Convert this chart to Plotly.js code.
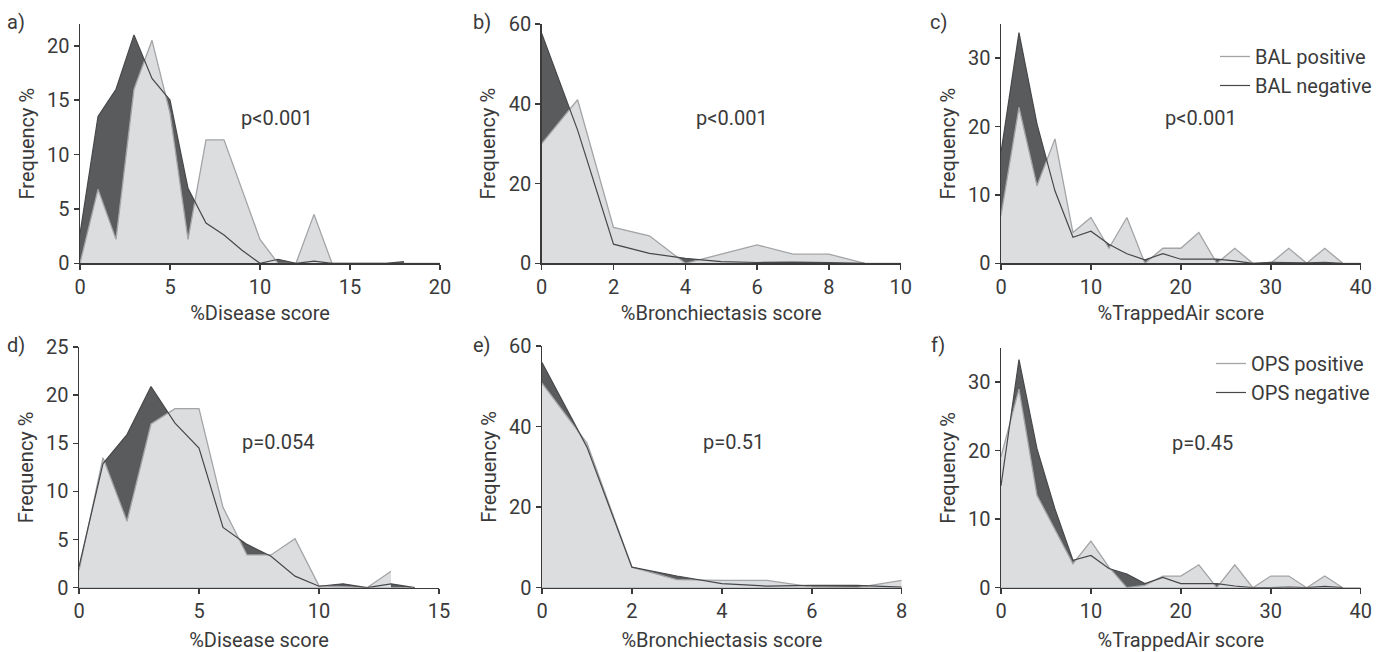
<!DOCTYPE html>
<html><head><meta charset="utf-8">
<script src="https://cdn.plot.ly/plotly-3.0.1.min.js"></script>
<style>html,body{margin:0;padding:0;background:#fff}#chart{width:1395px;height:652px}</style>
</head><body><div id="chart"></div>
<script>
// ---- data ----
const aX = [0,1,2,3,4,5,6,7,8,9,10,11,12,13,14,15,16,17,18,19,20];
const aPos = [0,6.8,2.2,16,20.5,13.8,2.2,11.35,11.35,6.8,2.2,0,0,4.5,0,0,0,0,0,0,0];
const aNegX = [0,1,2,3,4,5,6,7,8,9,10,11,12,13,14,15,16,17,18];
const aNeg = [2.7,13.5,16,21,17,15,6.9,3.7,2.6,1.2,0,0.37,0,0.2,0,0,0,0,0.15];

const bX = [0,1,2,3,4,5,6,7,8,9,10];
const bPos = [30,41,9,6.9,0,2.3,4.6,2.3,2.3,0,0];
const bNegX = [0,1,2,3,4,5,6,7,8,9];
const bNeg = [57.6,33.4,4.8,2.5,1.25,0.4,0.2,0.3,0.2,0];

const cX = [0,2,4,6,8,10,12,14,16,18,20,22,24,26,28,30,32,34,36,38,40];
const cPos = [7.0,22.8,11.35,18.2,4.5,6.7,2.2,6.7,0,2.2,2.2,4.5,0,2.2,0,0,2.2,0,2.2,0,0];
const cNegX = [0,2,4,6,8,10,12,14,16,18,20,22,24,26,28,30,32,34,36,38];
const cNeg = [16.2,33.75,20.4,10.6,3.8,4.7,2.8,1.4,0.5,1.4,0.6,0.6,0.6,0.35,0,0.15,0.05,0.05,0.15,0];

const dX = [0,1,2,3,4,5,6,7,8,9,10,11,12,13];
const dPos = [1.8,13.5,6.9,17,18.6,18.6,8.35,3.4,3.4,5.1,0.2,0.1,0,1.7];
const dNegX = [0,1,2,3,4,5,6,7,8,9,10,11,12,13,14];
const dNeg = [2.2,12.9,15.9,20.9,17.1,14.5,6.26,4.5,3.27,1.2,0.15,0.4,0,0.4,0];

const eX = [0,1,2,3,4,5,6,7,8];
const ePos = [50.8,35.9,5.1,2.0,1.8,1.8,0.2,0,1.8];
const eNegX = [0,1,2,3,4,5,6,7,8];
const eNeg = [55.9,34.9,5.1,2.9,1.0,0.4,0.6,0.6,0.15];

const fX = [0,2,4,6,8,10,12,14,16,18,20,22,24,26,28,30,32,34,36,38,40];
const fPos = [19.1,29,13.5,8.6,3.5,6.8,3.0,0,0.35,1.7,1.7,3.35,0,3.35,0,1.7,1.7,0,1.7,0,0];
const fNegX = [0,2,4,6,8,10,12,14,16,18,20,22,24,26,28,30,32,34,36,38];
const fNeg = [14.9,33.3,20.3,11.5,4.0,4.7,2.8,2.0,0.6,1.5,0.6,0.6,0.6,0.25,0,0,0.1,0,0.2,0];

const panelLabels = ["a)","b)","c)","d)","e)","f)"];
const pValues = ["p<0.001","p<0.001","p<0.001","p=0.054","p=0.51","p=0.45"];
const xTitles = ["%Disease score","%Bronchiectasis score","%TrappedAir score","%Disease score","%Bronchiectasis score","%TrappedAir score"];
const yTitle = "Frequency %";
const legendNames = [["BAL positive","BAL negative"],["OPS positive","OPS negative"]];

// ---- styling / layout ----
const W = 1395, H = 652;
const px = v => v / W, py = v => 1 - v / H;
const DARK = '#5a5b5d', LIGHT = '#dcdddf', LIGHTLINE = '#a3a4a6', NEGLINE = '#47484a', TXT = '#3a3a3a';
const FONT = 'Roboto, "DejaVu Sans", sans-serif';
const TXTSIZE = 20, TICKSIZE = 20;

const panels = [
  {x:aX,pos:aPos,nx:aNegX,neg:aNeg,xd:[80,440],yd:[263.3,24],xr:[0,20],yr:[0,22],xdt:5,ydt:5,lab:[16,22],p:[277,118],leg:null,so:8},
  {x:bX,pos:bPos,nx:bNegX,neg:bNeg,xd:[541.7,900.7],yd:[263.3,24],xr:[0,10],yr:[0,60],xdt:2,ydt:20,lab:[482,22],p:[732,118],leg:null,so:8},
  {x:cX,pos:cPos,nx:cNegX,neg:cNeg,xd:[1001,1360.7],yd:[263.3,24],xr:[0,40],yr:[0,35],xdt:10,ydt:10,lab:[938,22],p:[1201,118],leg:0,so:8},
  {x:dX,pos:dPos,nx:dNegX,neg:dNeg,xd:[79,439],yd:[587.7,347],xr:[0,15],yr:[0,25],xdt:5,ydt:5,lab:[16,345],p:[278,442],leg:null,so:11},
  {x:eX,pos:ePos,nx:eNegX,neg:eNeg,xd:[542,901.7],yd:[587.7,346],xr:[0,8],yr:[0,60],xdt:2,ydt:20,lab:[482,345],p:[733,442],leg:null,so:11},
  {x:fX,pos:fPos,nx:fNegX,neg:fNeg,xd:[1001,1360.7],yd:[587.7,348],xr:[0,40],yr:[0,35],xdt:10,ydt:10,lab:[938,345],p:[1202,443],leg:1,so:11}
];

const traces = [];
const layout = {
  width: W, height: H, margin:{l:0,r:0,t:0,b:0}, paper_bgcolor:'#fff', plot_bgcolor:'rgba(0,0,0,0)',
  font:{family:FONT, size:TXTSIZE, color:TXT}, annotations:[], showlegend:true, hovermode:false
};

panels.forEach((P,i) => {
  const n = i+1, xa = 'x'+(n===1?'':n), ya = 'y'+(n===1?'':n);
  const legId = P.leg===null ? null : (P.leg===0 ? 'legend' : 'legend2');
  traces.push({x:P.nx, y:P.neg, xaxis:xa, yaxis:ya, type:'scatter', mode:'lines', fill:'tozeroy',
    fillcolor:DARK, line:{width:0, color:DARK}, showlegend:false});
  traces.push({x:P.x, y:P.pos, xaxis:xa, yaxis:ya, type:'scatter', mode:'lines', fill:'tozeroy',
    fillcolor:LIGHT, line:{width:0, color:LIGHT}, showlegend:false});
  traces.push({x:P.x, y:P.pos, xaxis:xa, yaxis:ya, type:'scatter', mode:'lines',
    line:{width:1.3, color:LIGHTLINE}, name: legId ? legendNames[P.leg][0] : '',
    showlegend: !!legId, legend: legId || 'legend', legendgroup: 'p'+n});
  traces.push({x:P.nx, y:P.neg, xaxis:xa, yaxis:ya, type:'scatter', mode:'lines',
    line:{width:1.2, color:NEGLINE}, name: legId ? legendNames[P.leg][1] : '',
    showlegend: !!legId, legend: legId || 'legend', legendgroup: 'n'+n});

  const axCommon = {showgrid:false, zeroline:false, showline:true, linecolor:'#3a3a3a', linewidth:1.5,
    ticks:'outside', ticklen:5, tickwidth:1.5, tickcolor:'#3a3a3a', tickfont:{size:TICKSIZE, color:TXT, family:FONT},
    automargin:false, fixedrange:true};
  layout['xaxis'+(n===1?'':n)] = Object.assign({}, axCommon, {
    domain:[px(P.xd[0]), px(P.xd[1])], range:P.xr, dtick:P.xdt, tick0:0, anchor:ya,
    title:{text:xTitles[i], font:{size:TXTSIZE, color:TXT, family:FONT}, standoff:P.so}
  });
  layout['yaxis'+(n===1?'':n)] = Object.assign({}, axCommon, {
    domain:[py(P.yd[0]), py(P.yd[1])], range:P.yr, dtick:P.ydt, tick0:0, anchor:xa,
    title:{text:yTitle, font:{size:TXTSIZE, color:TXT, family:FONT}, standoff:7}
  });
  layout.annotations.push({text:panelLabels[i], xref:'paper', yref:'paper', x:px(P.lab[0]), y:py(P.lab[1]),
    xanchor:'center', yanchor:'middle', showarrow:false, font:{size:TXTSIZE, color:TXT, family:FONT}});
  layout.annotations.push({text:pValues[i], xref:'paper', yref:'paper', x:px(P.p[0]), y:py(P.p[1]),
    xanchor:'center', yanchor:'middle', showarrow:false, font:{size:TXTSIZE, color:TXT, family:FONT}});
});

const legCommon = {xanchor:'left', yanchor:'top', bgcolor:'rgba(0,0,0,0)', borderwidth:0,
  font:{size:TXTSIZE, color:TXT, family:FONT}, tracegroupgap:0, traceorder:'grouped'};
layout.legend = Object.assign({}, legCommon, {x:px(1215), y:py(37)});
layout.legend2 = Object.assign({}, legCommon, {x:px(1211), y:py(344)});

Plotly.newPlot('chart', traces, layout, {staticPlot:true, displayModeBar:false});
</script></body></html>
